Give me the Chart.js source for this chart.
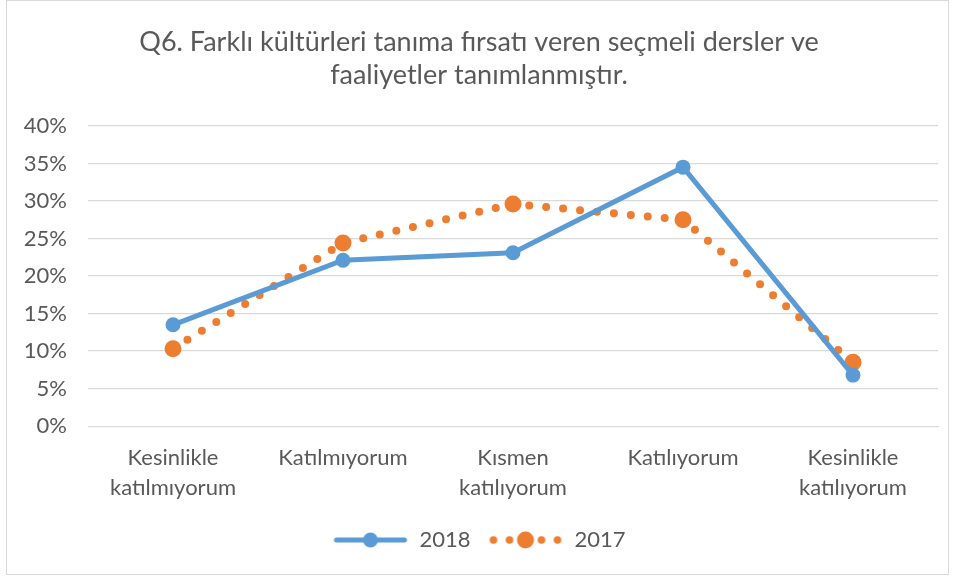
<!DOCTYPE html>
<html><head><meta charset="utf-8">
<script src="https://cdn.jsdelivr.net/npm/chart.js@4.4.1/dist/chart.umd.min.js"></script>
<style>
html,body{margin:0;padding:0;background:#fff;}
#wrap{position:absolute;left:0;top:0;width:953px;height:577px;}
#frame{position:absolute;left:6px;top:0px;width:943px;height:575px;border:1px solid #d9d9d9;box-sizing:border-box;pointer-events:none;}
</style></head>
<body>
<div id="wrap"><canvas id="c" width="953" height="577"></canvas><div id="frame"></div></div>
<script>
const categories = [["Kesinlikle","katılmıyorum"],"Katılmıyorum",["Kısmen","katılıyorum"],"Katılıyorum",["Kesinlikle","katılıyorum"]];
const series2018 = [13.5, 22.1, 23.1, 34.5, 6.8];
const series2017 = [10.3, 24.4, 29.6, 27.5, 8.5];
const yTicks = [0,5,10,15,20,25,30,35,40];
const titleLines = ["Q6. Farklı kültürleri tanıma fırsatı veren seçmeli dersler ve","faaliyetler tanımlanmıştır."];

const BLUE = "#5b9bd5", ORANGE = "#ed7d31", TXT = "#595959";
const FONT = "Lato, 'Open Sans', sans-serif";

function legendIcon(kind){
  const c = document.createElement('canvas');
  c.width = 76; c.height = 20;
  const g = c.getContext('2d');
  if(kind==='2018'){
    g.strokeStyle = BLUE; g.lineWidth = 5; g.lineCap='round';
    g.beginPath(); g.moveTo(4,10); g.lineTo(72,10); g.stroke();
    g.fillStyle = BLUE; g.beginPath(); g.arc(38,10,7.5,0,Math.PI*2); g.fill();
  } else {
    g.fillStyle = ORANGE;
    [6,22,54,70].forEach(x=>{g.beginPath(); g.arc(x,10,3.8,0,Math.PI*2); g.fill();});
    g.beginPath(); g.arc(38,10,8.5,0,Math.PI*2); g.fill();
  }
  return c;
}
const icons = {'2018': legendIcon('2018'), '2017': legendIcon('2017')};

new Chart(document.getElementById('c'), {
  type: 'line',
  data: {
    labels: categories,
    datasets: [
      {label:'2018', data: series2018, borderColor: BLUE, backgroundColor: BLUE, borderWidth: 5,
       pointRadius: 7.5, pointHoverRadius: 7.5, pointBackgroundColor: BLUE, pointBorderWidth: 0, tension: 0, borderCapStyle:'round'},
      {label:'2017', data: series2017, borderColor: ORANGE, backgroundColor: ORANGE, borderWidth: 8,
       borderDash:[0,17], borderCapStyle:'round',
       pointRadius: 8.5, pointHoverRadius: 8.5, pointBackgroundColor: ORANGE, pointBorderWidth: 0, tension: 0}
    ]
  },
  options: {
    responsive: false,
    animation: false,
    layout: {padding: {left: 20, right: 15, top: 12, bottom: 16}},
    plugins: {
      title: {display: true, text: titleLines, color: TXT, font: {family: FONT, size: 27, weight: 'normal', lineHeight: 1.22}, padding: {top: 14, bottom: 34}},
      legend: {position: 'bottom', labels: {
        usePointStyle: true, pointStyleWidth: 76, color: TXT, font: {family: FONT, size: 22}, padding: 17,
        generateLabels(chart){
          return chart.data.datasets.map((d,i)=>({text: d.label, pointStyle: icons[d.label], fontColor: TXT, datasetIndex: i, hidden: false, lineWidth: 0, strokeStyle: 'transparent', fillStyle: 'transparent'}));
        }
      }},
      tooltip: {enabled: false}
    },
    scales: {
      x: {offset: true, grid: {display: false}, border: {color: '#d9d9d9'},
          ticks: {color: TXT, font: {family: FONT, size: 22, lineHeight: 1.36}, padding: 9, maxRotation: 0}},
      y: {min: 0, max: 40, afterBuildTicks(s){ s.ticks = yTicks.map(v=>({value:v})); },
          grid: {color: '#d9d9d9', lineWidth: 1.3, drawTicks: false}, border: {display: false},
          ticks: {color: TXT, font: {family: FONT, size: 22}, padding: 21, callback: v => v + '%'},
          afterFit(s){ s.width = 68; }}
    }
  }
});
</script>
</body></html>
